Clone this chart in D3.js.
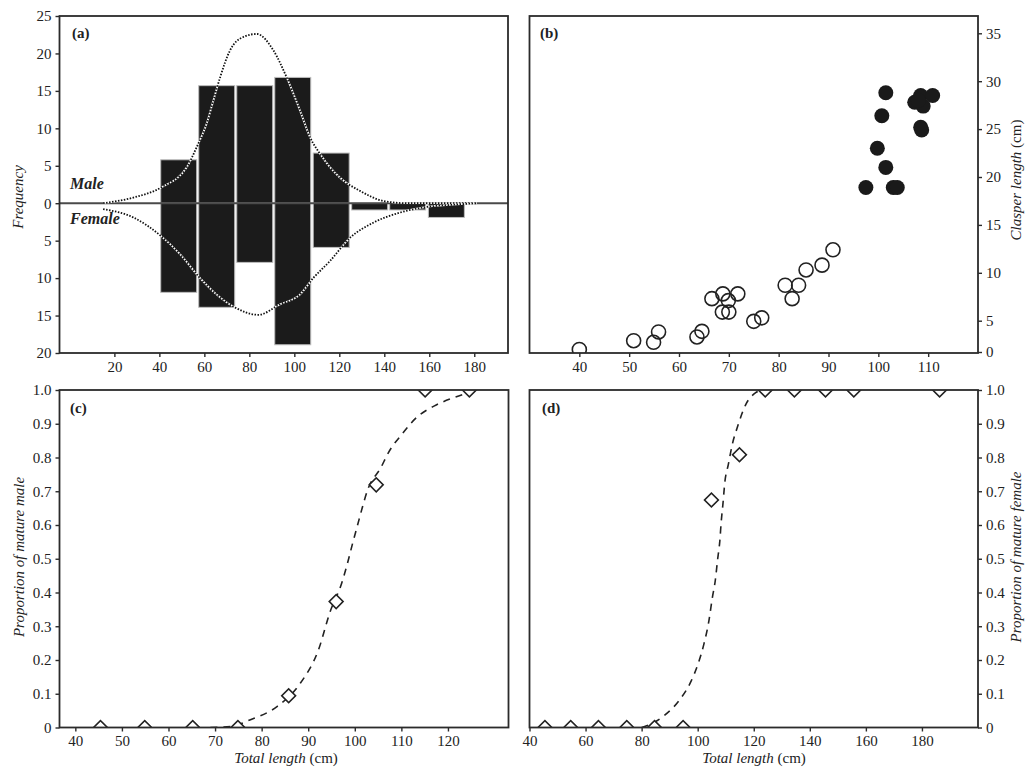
<!DOCTYPE html>
<html>
<head>
<meta charset="utf-8">
<script src="https://cdn.jsdelivr.net/npm/d3@7/dist/d3.min.js"></script>
<style>
  body { margin: 0; background: #fff; }
  text { font-family: "Liberation Serif", "Times New Roman", serif; fill: #222; font-size: 15px; }
  .tick line { stroke: #2b2b2b; stroke-width: 1.4; }
</style>
</head>
<body>
<div id="chart"></div>
<script>
// (a) length frequency, bins of ~17 cm
const binCenters = [48.6, 65.5, 82.4, 99.3, 116.4, 133.5, 150.4, 167.6];
const maleFreq = [5.8, 15.7, 15.7, 16.8, 6.7, 0, 0, 0];
const femaleFreq = [11.9, 13.9, 7.9, 18.9, 5.9, 0.9, 0.9, 1.9];
// dotted fitted curves [length, frequency]
const maleCurve = [[15, 0], [28.4, 0.75], [40.8, 2.1], [52.2, 4.8], [56.6, 7.5], [61, 10.6], [64, 13.7],
  [67, 16.8], [71.4, 20.4], [77.3, 22.2], [83.3, 22.6], [90.7, 20.4], [96.6, 16.8], [102.5, 12.4],
  [107, 8.8], [111.4, 6.6], [120.3, 3.4], [129.2, 1.65], [139.6, 0.3], [150, 0], [181, 0]];
const femaleCurve = [[15, -0.8], [28.4, -1.9], [40.8, -4.4], [49.2, -6.8], [58.1, -10], [65.5, -12.2],
  [72.9, -13.8], [84, -14.9], [93.6, -13.5], [102.5, -12.2], [108.4, -10], [115.9, -7.7], [124.8, -4.6],
  [135.1, -2.6], [147, -1.25], [158.8, -0.5], [170.7, -0.2], [181, 0]];
const aXTicks = [20, 40, 60, 80, 100, 120, 140, 160, 180];
const aYTicks = [-20, -15, -10, -5, 0, 5, 10, 15, 20, 25];

// (b) clasper length vs total length
const immatureTL = [40, 50.9, 54.9, 55.9, 63.6, 64.6, 66.6, 68.8, 69.9, 68.7, 70, 71.8, 75, 76.6, 81.3, 84, 82.7, 85.5, 88.7, 90.9];
const immatureCL = [0.4, 1.8, 1.55, 3.2, 2.4, 3.3, 7.3, 7.8, 7.1, 5.9, 5.9, 7.8, 4.9, 5.3, 8.7, 8.7, 7.3, 10.3, 10.8, 12.4];
const matureTL = [101.5, 100.7, 99.8, 101.5, 97.5, 103, 103.8, 107.3, 108.5, 109, 110.9, 108.5, 108.7, 108];
const matureCL = [28.8, 26.4, 23.0, 21.0, 18.9, 18.9, 18.9, 27.8, 28.5, 27.4, 28.5, 25.2, 24.9, 28.0];
const bXTicks = [40, 50, 60, 70, 80, 90, 100, 110];
const bYTicks = [0, 5, 10, 15, 20, 25, 30, 35];

// (c) proportion of mature males
const maleMatTL = [45.4, 54.9, 65.2, 74.9, 85.8, 96, 104.6, 115.1, 124.6];
const maleMatP = [0, 0, 0, 0, 0.094, 0.373, 0.719, 1, 1];
const maleFit = [[69, 0], [73.3, 0.003], [77.6, 0.023], [83.3, 0.062], [88.3, 0.131], [92.2, 0.23],
  [94.7, 0.343], [97.2, 0.428], [98.4, 0.485], [99.5, 0.544], [100.6, 0.6], [101.6, 0.651], [102.7, 0.702],
  [105.6, 0.77], [107.2, 0.814], [110.3, 0.872], [113.3, 0.919], [117.1, 0.953], [121, 0.976], [124.1, 0.99]];
const cXTicks = [40, 50, 60, 70, 80, 90, 100, 110, 120];

// (d) proportion of mature females
const femMatTL = [45.5, 54.7, 64.6, 74.7, 84.6, 94.8, 104.9, 114.9, 124.1, 134.5, 145.6, 155.7, 186.3];
const femMatP = [0, 0, 0, 0, 0, 0, 0.674, 0.808, 1, 1, 1, 1, 1];
const femFit = [[80, 0], [81.8, 0.005], [88, 0.035], [93.4, 0.08], [97.4, 0.133], [100.2, 0.19], [102.3, 0.25],
  [104, 0.316], [105.2, 0.383], [106.3, 0.437], [107.1, 0.497], [107.9, 0.553], [108.4, 0.61], [109, 0.662],
  [109.7, 0.728], [110.9, 0.778], [112.3, 0.837], [114.4, 0.896], [117.1, 0.956], [120.7, 0.992], [123, 1]];
const dXTicks = [40, 60, 80, 100, 120, 140, 160, 180];
const propTicks = [0, 0.1, 0.2, 0.3, 0.4, 0.5, 0.6, 0.7, 0.8, 0.9, 1.0];

// panel boxes (pixels)
const A = {x0: 59.5, x1: 508, y0: 16, y1: 353};
const B = {x0: 529.5, x1: 978, y0: 16, y1: 353};
const C = {x0: 59.5, x1: 508.5, y0: 390, y1: 727.5};
const D = {x0: 529.5, x1: 978, y0: 390, y1: 727.5};

const ink = "#222";

let svg = d3.select("#chart").append("svg")
    .attr("width", 1025)
    .attr("height", 769);

function clip(id, b) {
  svg.append("clipPath").attr("id", id)
    .append("rect")
    .attr("x", b.x0).attr("y", b.y0)
    .attr("width", b.x1 - b.x0).attr("height", b.y1 - b.y0);
}
clip("clipA", A); clip("clipB", B); clip("clipC", C); clip("clipD", D);

function frame(b) {
  svg.append("rect")
    .attr("x", b.x0).attr("y", b.y0)
    .attr("width", b.x1 - b.x0).attr("height", b.y1 - b.y0)
    .attr("fill", "none").attr("stroke", "#2b2b2b").attr("stroke-width", 1.8);
}

function axis(gen, tx, ty) {
  let g = svg.append("g")
    .attr("transform", "translate(" + tx + "," + ty + ")")
    .call(gen.tickSize(4).tickPadding(4));
  g.select(".domain").remove();
  g.attr("font-family", null).attr("font-size", null);
  return g;
}

const propFmt = d => d === 0 ? "0" : d.toFixed(1);

// ---------- (a) ----------
let xA = d3.scaleLinear().domain([-4.4, 195]).range([A.x0, A.x1]);
let yA = d3.scaleLinear().domain([-20, 25]).range([A.y1, A.y0]);

let ga = svg.append("g").attr("clip-path", "url(#clipA)");

ga.selectAll("rect.male")
  .data(binCenters.map((c, i) => ({c: c, v: maleFreq[i]})).filter(d => d.v > 0))
  .join("rect")
  .attr("class", "male")
  .attr("x", d => xA(d.c - 8))
  .attr("width", d => xA(d.c + 8) - xA(d.c - 8))
  .attr("y", d => yA(d.v))
  .attr("height", d => yA(0) - yA(d.v))
  .attr("fill", "#1b1b1b").attr("stroke", "#bdbdbd").attr("stroke-width", 1);

ga.selectAll("rect.female")
  .data(binCenters.map((c, i) => ({c: c, v: femaleFreq[i]})))
  .join("rect")
  .attr("class", "female")
  .attr("x", d => xA(d.c - 8))
  .attr("width", d => xA(d.c + 8) - xA(d.c - 8))
  .attr("y", yA(0))
  .attr("height", d => yA(-d.v) - yA(0))
  .attr("fill", "#1b1b1b").attr("stroke", "#bdbdbd").attr("stroke-width", 1);

ga.append("line")
  .attr("x1", A.x0).attr("x2", A.x1)
  .attr("y1", yA(0)).attr("y2", yA(0))
  .attr("stroke", "#4a4a4a").attr("stroke-width", 2);

const curveA = d3.line().x(d => xA(d[0])).y(d => yA(d[1])).curve(d3.curveMonotoneX);
[maleCurve, femaleCurve].forEach(c => {
  ga.append("path").attr("d", curveA(c))
    .attr("fill", "none").attr("stroke", "#fff").attr("stroke-width", 1.8);
  ga.append("path").attr("d", curveA(c))
    .attr("fill", "none").attr("stroke", "#111").attr("stroke-width", 1.8)
    .attr("stroke-dasharray", "1.5,1.5");
});

svg.append("text").attr("x", 70).attr("y", 189)
  .style("font-weight", "bold").style("font-style", "italic").style("font-size", "16px")
  .text("Male");
svg.append("text").attr("x", 70).attr("y", 224)
  .style("font-weight", "bold").style("font-style", "italic").style("font-size", "16px")
  .text("Female");

frame(A);
axis(d3.axisBottom(xA).tickValues(aXTicks), 0, A.y1);
axis(d3.axisLeft(yA).tickValues(aYTicks).tickFormat(d => Math.abs(d)), A.x0, 0);
svg.append("text").attr("x", 72).attr("y", 38).style("font-weight", "bold").text("(a)");
svg.append("text")
  .attr("transform", "translate(23," + 197 + ") rotate(-90)")
  .attr("text-anchor", "middle").style("font-style", "italic")
  .text("Frequency");

// ---------- (b) ----------
let xB = d3.scaleLinear().domain([30, 120]).range([B.x0, B.x1]);
let yB = d3.scaleLinear().domain([0, 5, 35]).range([352, 320.7, 33.3]);

let gb = svg.append("g").attr("clip-path", "url(#clipB)");
gb.selectAll("circle.imm")
  .data(immatureTL.map((t, i) => [t, immatureCL[i]]))
  .join("circle")
  .attr("class", "imm")
  .attr("cx", d => xB(d[0])).attr("cy", d => yB(d[1]))
  .attr("r", 7)
  .attr("fill", "none").attr("stroke", ink).attr("stroke-width", 1.6);
gb.selectAll("circle.mat")
  .data(matureTL.map((t, i) => [t, matureCL[i]]))
  .join("circle")
  .attr("class", "mat")
  .attr("cx", d => xB(d[0])).attr("cy", d => yB(d[1]))
  .attr("r", 7.5)
  .attr("fill", "#1a1a1a");

frame(B);
axis(d3.axisBottom(xB).tickValues(bXTicks), 0, B.y1);
axis(d3.axisRight(yB).tickValues(bYTicks), B.x1, 0);
svg.append("text").attr("x", 540).attr("y", 38).style("font-weight", "bold").text("(b)");
let tb = svg.append("text")
  .attr("transform", "translate(1021," + 180 + ") rotate(-90)")
  .attr("text-anchor", "middle");
tb.append("tspan").style("font-style", "italic").text("Clasper length");
tb.append("tspan").text(" (cm)");

// ---------- (c) ----------
let xC = d3.scaleLinear().domain([36.6, 133]).range([C.x0, C.x1]);
let yC = d3.scaleLinear().domain([0, 1]).range([C.y1, C.y0]);

let gc = svg.append("g").attr("clip-path", "url(#clipC)");
gc.append("path")
  .attr("d", d3.line().x(d => xC(d[0])).y(d => yC(d[1])).curve(d3.curveMonotoneX)(maleFit))
  .attr("fill", "none").attr("stroke", ink).attr("stroke-width", 1.6)
  .attr("stroke-dasharray", "7,6");
const diamond = d3.symbol().type(d3.symbolSquare).size(96);
gc.selectAll("path.dm")
  .data(maleMatTL.map((t, i) => [t, maleMatP[i]]))
  .join("path")
  .attr("class", "dm")
  .attr("d", diamond)
  .attr("transform", d => "translate(" + xC(d[0]) + "," + yC(d[1]) + ") rotate(45)")
  .attr("fill", "#fff").attr("stroke", ink).attr("stroke-width", 1.6);

frame(C);
axis(d3.axisBottom(xC).tickValues(cXTicks), 0, C.y1);
axis(d3.axisLeft(yC).tickValues(propTicks).tickFormat(propFmt), C.x0, 0);
svg.append("text").attr("x", 70).attr("y", 413).style("font-weight", "bold").text("(c)");
svg.append("text")
  .attr("transform", "translate(24," + 557 + ") rotate(-90)")
  .attr("text-anchor", "middle").style("font-style", "italic")
  .text("Proportion of mature male");
let tc = svg.append("text").attr("x", 286).attr("y", 763).attr("text-anchor", "middle");
tc.append("tspan").style("font-style", "italic").text("Total length");
tc.append("tspan").text(" (cm)");

// ---------- (d) ----------
let xD = d3.scaleLinear().domain([40, 200]).range([D.x0, D.x1]);
let yD = d3.scaleLinear().domain([0, 1]).range([D.y1, D.y0]);

let gd = svg.append("g").attr("clip-path", "url(#clipD)");
gd.append("path")
  .attr("d", d3.line().x(d => xD(d[0])).y(d => yD(d[1])).curve(d3.curveMonotoneX)(femFit))
  .attr("fill", "none").attr("stroke", ink).attr("stroke-width", 1.6)
  .attr("stroke-dasharray", "7,6");
gd.selectAll("path.dm")
  .data(femMatTL.map((t, i) => [t, femMatP[i]]))
  .join("path")
  .attr("class", "dm")
  .attr("d", diamond)
  .attr("transform", d => "translate(" + xD(d[0]) + "," + yD(d[1]) + ") rotate(45)")
  .attr("fill", "#fff").attr("stroke", ink).attr("stroke-width", 1.6);

frame(D);
axis(d3.axisBottom(xD).tickValues(dXTicks), 0, D.y1);
axis(d3.axisRight(yD).tickValues(propTicks).tickFormat(propFmt), D.x1, 0);
svg.append("text").attr("x", 542).attr("y", 413).style("font-weight", "bold").text("(d)");
svg.append("text")
  .attr("transform", "translate(1021," + 557 + ") rotate(-90)")
  .attr("text-anchor", "middle").style("font-style", "italic")
  .text("Proportion of mature female");
let td = svg.append("text").attr("x", 754).attr("y", 763).attr("text-anchor", "middle");
td.append("tspan").style("font-style", "italic").text("Total length");
td.append("tspan").text(" (cm)");
</script>
</body>
</html>
